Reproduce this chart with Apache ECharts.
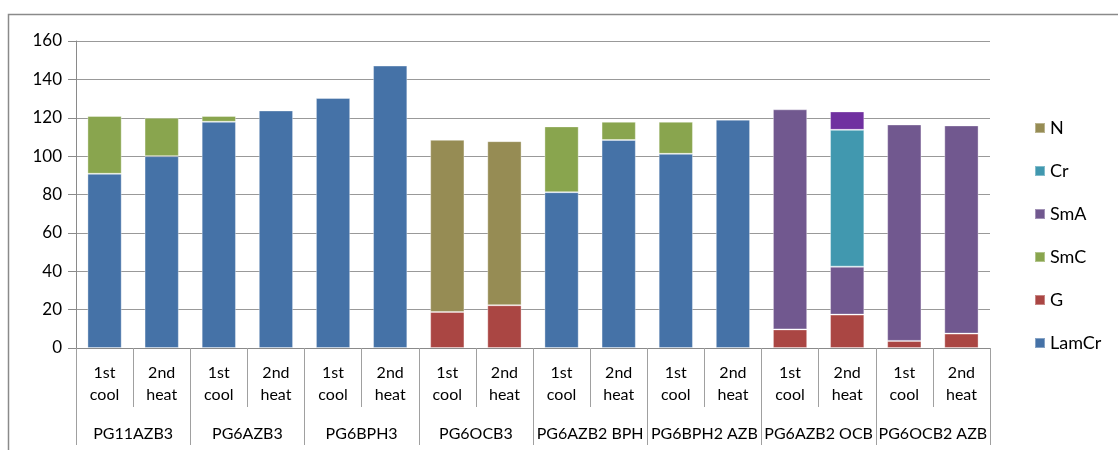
<!DOCTYPE html>
<html>
<head>
<meta charset="utf-8">
<script src="https://cdn.jsdelivr.net/npm/echarts@6/dist/echarts.min.js"></script>
<style>html,body{margin:0;padding:0;background:#fff;}#c{width:1118px;height:450px;}</style>
</head>
<body>
<div id="c"></div>
<script>
const subLabels = ["1st\ncool","2nd\nheat","1st\ncool","2nd\nheat","1st\ncool","2nd\nheat","1st\ncool","2nd\nheat","1st\ncool","2nd\nheat","1st\ncool","2nd\nheat","1st\ncool","2nd\nheat","1st\ncool","2nd\nheat"];
const groups = ["PG11AZB3","PG6AZB3","PG6BPH3","PG6OCB3","PG6AZB2 BPH","PG6BPH2 AZB","PG6AZB2 OCB","PG6OCB2 AZB"];
const yTicks = [0,20,40,60,80,100,120,140,160];
const LamCr = [90.8,100,117.9,123.8,130.3,147.2,null,null,81.2,108.4,101.2,119,null,null,null,null];
const G     = [null,null,null,null,null,null,18.8,22.3,null,null,null,null,9.7,17.4,3.7,7.5];
const SmC   = [30.1,20,3,null,null,null,null,null,34.3,9.5,16.7,null,null,null,null,null];
const SmA   = [null,null,null,null,null,null,null,null,null,null,null,null,114.7,25,112.8,108.5];
const Cr    = [null,null,null,null,null,null,null,null,null,null,null,null,null,71.3,null,null];
const Extra = [null,null,null,null,null,null,null,null,null,null,null,null,null,9.6,null,null];
const N     = [null,null,null,null,null,null,89.7,85.5,null,null,null,null,null,null,null,null];

const FONT = 'Lato';
const chart = echarts.init(document.getElementById('c'));
function bar(name, data, color) {
  return {name, type:'bar', stack:'s', data, barWidth:'60%', itemStyle:{color, borderColor:'rgba(255,255,255,0.35)', borderWidth:1}, xAxisIndex:0, yAxisIndex:0};
}
chart.setOption({
  animation:false,
  textStyle:{fontFamily:FONT},
  graphic:[{type:'rect', shape:{x:8.5,y:14.5,width:1200,height:500}, style:{fill:null, stroke:'#8a8a8a', lineWidth:1.5}, z:-1}],
  grid:{left:76, right:128, top:41, bottom:102},
  legend:{
    orient:'vertical', left:1029, top:112, itemWidth:10, itemHeight:10, itemGap:21,
    icon:'rect',
    data:['N','Cr','SmA','SmC','G','LamCr'],
    textStyle:{fontFamily:FONT, fontSize:18, color:'#000', lineHeight:22}
  },
  xAxis:[
    {type:'category', data:subLabels, position:'bottom',
     axisLine:{show:true, lineStyle:{color:'#8a8a8a', width:1}},
     axisTick:{show:true, interval:0, alignWithLabel:false, length:59, lineStyle:{color:'#a0a0a0'}},
     axisLabel:{margin:14, fontSize:16, color:'#000', lineHeight:22, fontFamily:FONT, interval:0}},
    {type:'category', data:groups, position:'bottom',
     axisLine:{show:false},
     axisTick:{show:true, interval:0, alignWithLabel:false, length:97, lineStyle:{color:'#a0a0a0'}},
     axisLabel:{margin:78, fontSize:16, color:'#000', fontFamily:FONT, interval:0}}
  ],
  yAxis:{type:'value', min:yTicks[0], max:yTicks[yTicks.length-1], interval:20,
    axisLine:{show:true, lineStyle:{color:'#8a8a8a'}},
    axisTick:{show:true, length:8, lineStyle:{color:'#8a8a8a'}},
    splitLine:{lineStyle:{color:'#999', width:1.2}},
    axisLabel:{fontSize:17, color:'#000', margin:14, fontFamily:FONT}},
  series:[
    bar('LamCr', LamCr, '#4572A7'),
    bar('G', G, '#AA4643'),
    bar('SmC', SmC, '#89A54E'),
    bar('SmA', SmA, '#71588F'),
    bar('Cr', Cr, '#4198AF'),
    bar('Extra', Extra, '#7030A0'),
    bar('N', N, '#968C54')
  ]
});
</script>
</body>
</html>
